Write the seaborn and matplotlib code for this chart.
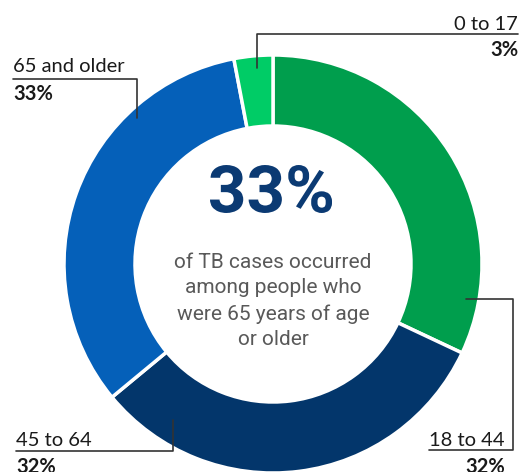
import matplotlib
matplotlib.use("Agg")
import matplotlib.pyplot as plt
import seaborn as sns
from matplotlib.textpath import TextPath
from matplotlib.patches import PathPatch
from matplotlib.font_manager import FontProperties
from matplotlib.transforms import Affine2D

# data, clockwise from 12 o'clock
groups = ['18 to 44', '45 to 64', '65 and older', '0 to 17']
shares = [32, 32, 33, 3]
colors = ['#009e4d', '#03366b', '#0560b9', '#00cc66']

headline = '33%'
caption = 'of TB cases occurred\namong people who\nwere 65 years of age\nor older'

sns.set_style('white')
plt.rcParams['font.family'] = ['Lato', 'DejaVu Sans']

W, H = 522, 472
fig = plt.figure(figsize=(W / 100, H / 100), dpi=100)
ax = fig.add_axes([0, 0, 1, 1])

cx, cy, r = 273, H - 264, 209
ax.pie(shares, colors=colors, startangle=90, counterclock=False,
       center=(cx, cy), radius=r, frame=True,
       wedgeprops=dict(width=71, edgecolor='white', linewidth=2.5))
ax.set_xlim(0, W)
ax.set_ylim(0, H)
ax.set_aspect('equal')
ax.axis('off')

def Y(y):
    return H - y

# big headline, squeezed to look like a condensed face
tp = TextPath((0, 0), headline, size=100,
              prop=FontProperties(family='Roboto', weight='bold'))
bb = tp.get_extents()
sx = 122 / bb.width
sy = 48 / bb.height
tr = (Affine2D().translate(-(bb.x0 + bb.width / 2), -(bb.y0 + bb.height / 2))
      .scale(sx, sy).translate(cx - 2, Y(189)))
ax.add_patch(PathPatch(tr.transform_path(tp), facecolor='#0b3a73',
                       edgecolor='none'))

ax.text(cx, Y(301), caption, ha='center', va='center', fontsize=15,
        color='#595959', linespacing=1.42, family=['Roboto', 'DejaVu Sans'])

lc = '#333333'
lw = 1.2
lab = dict(fontsize=14.5, color='#1a1a1a')
pct = dict(fontsize=14.5, color='#1a1a1a', fontweight='bold')

# 0 to 17
ax.plot([257, 257, 518], [Y(68), Y(34), Y(34)], color=lc, lw=lw)
ax.text(518, Y(30), groups[3], ha='right', va='baseline', **lab)
ax.text(518, Y(56), f'{shares[3]}%', ha='right', va='baseline', **pct)

# 65 and older
ax.plot([13, 137, 137], [Y(79), Y(79), Y(118)], color=lc, lw=lw)
ax.text(13, Y(72), groups[2], ha='left', va='baseline', **lab)
ax.text(13, Y(100), f'{shares[2]}%', ha='left', va='baseline', **pct)

# 45 to 64
ax.plot([16, 173, 173], [Y(451), Y(451), Y(420)], color=lc, lw=lw)
ax.text(16, Y(446), groups[1], ha='left', va='baseline', **lab)
ax.text(16, Y(473), f'{shares[1]}%', ha='left', va='baseline', **pct)

# 18 to 44
ax.plot([466, 513, 513, 429], [Y(299), Y(299), Y(450), Y(450)], color=lc, lw=lw)
ax.text(505, Y(446), groups[0], ha='right', va='baseline', **lab)
ax.text(505, Y(473), f'{shares[0]}%', ha='right', va='baseline', **pct)

fig.savefig('out.png', dpi=100, facecolor='white')
